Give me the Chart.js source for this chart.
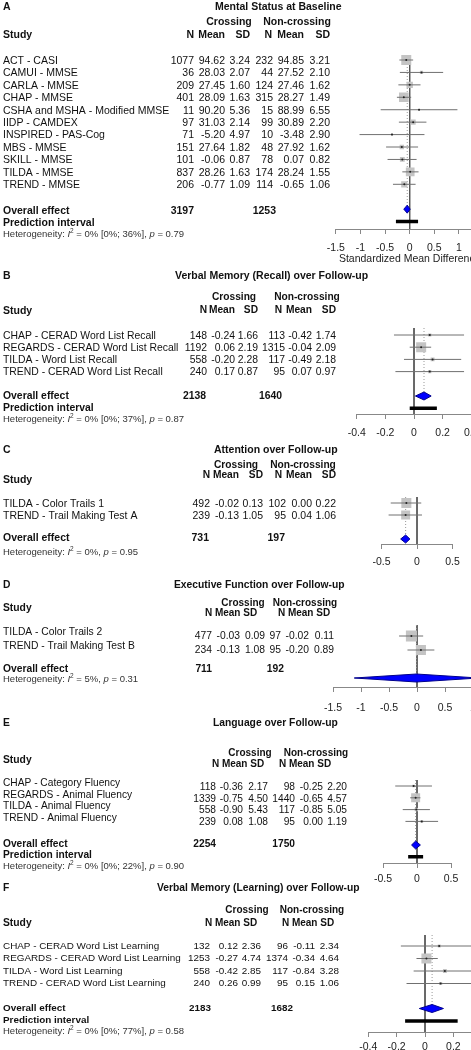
<!DOCTYPE html>
<html>
<head>
<meta charset="utf-8">
<script src="https://cdn.jsdelivr.net/npm/chart.js@4.4.1/dist/chart.umd.min.js"></script>
<style>
  html, body { margin: 0; padding: 0; background: #fff; width: 471px; height: 1050px; overflow: hidden; position: relative; }
  canvas { position: absolute; left: 0; }
</style>
</head>
<body>
<script>
// ---------- data ----------
const letters = ["A", "B", "C", "D", "E", "F"];
const panelTitles = [
  "Mental Status at Baseline",
  "Verbal Memory (Recall) over Follow-up",
  "Attention over Follow-up",
  "Executive Function over Follow-up",
  "Language over Follow-up",
  "Verbal Memory (Learning) over Follow-up"
];
const hetI2 = ["0%", "0%", "0%", "5%", "0%", "0%"];
const hetRange = ["[0%; 36%]", "[0%; 37%]", "", "", "[0%; 22%]", "[0%; 77%]"];
const hetP = ["0.79", "0.87", "0.95", "0.31", "0.90", "0.58"];

// A - mental status at baseline
const studiesA = ["ACT - CASI", "CAMUI - MMSE", "CARLA - MMSE", "CHAP - MMSE", "CSHA and MSHA - Modified MMSE",
  "IIDP - CAMDEX", "INSPIRED - PAS-Cog", "MBS - MMSE", "SKILL - MMSE", "TILDA - MMSE", "TREND - MMSE"];
const nCrossA = [1077, 36, 209, 401, 11, 97, 71, 151, 101, 837, 206];
const meanCrossA = [94.62, 28.03, 27.45, 28.09, 90.20, 31.03, -5.20, 27.64, -0.06, 28.26, -0.77];
const sdCrossA = [3.24, 2.07, 1.60, 1.63, 5.36, 2.14, 4.97, 1.82, 0.87, 1.63, 1.09];
const nNonA = [232, 44, 124, 315, 15, 99, 10, 48, 78, 174, 114];
const meanNonA = [94.85, 27.52, 27.46, 28.27, 88.99, 30.89, -3.48, 27.92, 0.07, 28.24, -0.65];
const sdNonA = [3.21, 2.10, 1.62, 1.49, 6.55, 2.20, 2.90, 1.62, 0.82, 1.55, 1.06];
const smdA = [-0.07, 0.24, 0.00, -0.12, 0.19, 0.07, -0.36, -0.16, -0.15, 0.01, -0.11];
const loA = [-0.21, -0.20, -0.23, -0.26, -0.59, -0.22, -1.02, -0.48, -0.45, -0.15, -0.34];
const hiA = [0.07, 0.68, 0.22, 0.03, 0.97, 0.34, 0.30, 0.17, 0.14, 0.18, 0.12];
const overallA = [-0.05, -0.12, 0.01];
const predA = [-0.28, 0.17];
const totalsA = [3197, 1253];
const ticksA = [-1.5, -1, -0.5, 0, 0.5, 1, 1.5];

// B - verbal memory (recall)
const studiesB = ["CHAP - CERAD Word List Recall", "REGARDS - CERAD Word List Recall",
  "TILDA - Word List Recall", "TREND - CERAD Word List Recall"];
const nCrossB = [148, 1192, 558, 240];
const meanCrossB = [-0.24, 0.06, -0.20, 0.17];
const sdCrossB = [1.66, 2.19, 2.28, 0.87];
const nNonB = [113, 1315, 117, 95];
const meanNonB = [-0.42, -0.04, -0.49, 0.07];
const sdNonB = [1.74, 2.09, 2.18, 0.97];
const smdB = [0.11, 0.05, 0.13, 0.11];
const loB = [-0.14, -0.03, -0.07, -0.13];
const hiB = [0.35, 0.12, 0.33, 0.35];
const overallB = [0.07, 0.01, 0.12];
const predB = [-0.03, 0.16];
const totalsB = [2138, 1640];
const ticksB = [-0.4, -0.2, 0, 0.2, 0.4];

// C - attention
const studiesC = ["TILDA - Color Trails 1", "TREND - Trail Making Test A"];
const nCrossC = [492, 239];
const meanCrossC = [-0.02, -0.13];
const sdCrossC = [0.13, 1.05];
const nNonC = [102, 95];
const meanNonC = [0.00, 0.04];
const sdNonC = [0.22, 1.06];
const smdC = [-0.15, -0.16];
const loC = [-0.37, -0.40];
const hiC = [0.06, 0.07];
const overallC = [-0.16, -0.23, -0.10];
const totalsC = [731, 197];
const ticksC = [-0.5, 0, 0.5];

// D - executive function
const studiesD = ["TILDA - Color Trails 2", "TREND - Trail Making Test B"];
const nCrossD = [477, 234];
const meanCrossD = [-0.03, -0.13];
const sdCrossD = [0.09, 1.08];
const nNonD = [97, 95];
const meanNonD = [-0.02, -0.20];
const sdNonD = [0.11, 0.89];
const smdD = [-0.10, 0.07];
const loD = [-0.32, -0.17];
const hiD = [0.11, 0.31];
const overallD = [-0.01, -1.12, 1.10];
const totalsD = [711, 192];
const ticksD = [-1.5, -1, -0.5, 0, 0.5, 1, 1.5];

// E - language
const studiesE = ["CHAP - Category Fluency", "REGARDS - Animal Fluency", "TILDA - Animal Fluency", "TREND - Animal Fluency"];
const nCrossE = [118, 1339, 558, 239];
const meanCrossE = [-0.36, -0.75, -0.90, 0.08];
const sdCrossE = [2.17, 4.50, 5.43, 1.08];
const nNonE = [98, 1440, 117, 95];
const meanNonE = [-0.25, -0.65, -0.85, 0.00];
const sdNonE = [2.20, 4.57, 5.05, 1.19];
const smdE = [-0.05, -0.02, -0.01, 0.07];
const loE = [-0.32, -0.10, -0.21, -0.17];
const hiE = [0.22, 0.05, 0.19, 0.31];
const overallE = [-0.02, -0.08, 0.05];
const predE = [-0.13, 0.09];
const totalsE = [2254, 1750];
const ticksE = [-0.5, 0, 0.5];

// F - verbal memory (learning)
const studiesF = ["CHAP - CERAD Word List Learning", "REGARDS - CERAD Word List Learning",
  "TILDA - Word List Learning", "TREND - CERAD Word List Learning"];
const nCrossF = [132, 1253, 558, 240];
const meanCrossF = [0.12, -0.27, -0.42, 0.26];
const sdCrossF = [2.36, 4.74, 2.85, 0.99];
const nNonF = [96, 1374, 117, 95];
const meanNonF = [-0.11, -0.34, -0.84, 0.15];
const sdNonF = [2.34, 4.64, 3.28, 1.06];
const smdF = [0.10, 0.01, 0.14, 0.11];
const loF = [-0.17, -0.06, -0.08, -0.13];
const hiF = [0.36, 0.09, 0.36, 0.35];
const overallF = [0.05, -0.04, 0.13];
const predF = [-0.14, 0.23];
const totalsF = [2183, 1682];
const ticksF = [-0.4, -0.2, 0, 0.2, 0.4];

// ---------- layout (page pixels) ----------
const FAM = "'Liberation Sans', Arial, Helvetica, sans-serif";
const CW = 560;

const layouts = [
  { top: 0, titleX: 215, titleY: 7, crossY: 22, crossX: [229, 297], studyY: 35, headY: 35,
    headCols: [194, 225, 250, 272, 304, 330], cols: [194, 225, 250, 273, 304, 330],
    row0: 60, sp: 12.43, nameDy: 1, numDy: 1, ovY: 211, predY: 223, hetY: 234, ovCols: [194, 276],
    zTopY: 55, axisY: 229, x0: 409.7, ppu: 49.2, tickPad: 8, axisTitle: "Standardized Mean Difference",
    box: 10, fs: 10.5, hfs: 10.5, tfs: 10.5 },
  { top: 268, titleX: 175, titleY: 276, crossY: 297, crossX: [234, 307], studyY: 311, headY: 310,
    headCols: [207, 235, 258, 282, 312, 336], cols: [207, 235, 258, 285, 312, 336],
    row0: 335, sp: 12.2, nameDy: 1, numDy: 1, ovY: 396, predY: 408, hetY: 419, ovCols: [206, 282],
    zTopY: 328, axisY: 414, x0: 414, ppu: 143, tickPad: 8, box: 10, fs: 10.4, hfs: 10.2, tfs: 10.5 },
  { top: 442, titleX: 214, titleY: 450, crossY: 465, crossX: [236, 303], studyY: 480, headY: 475,
    headCols: [210, 239, 263, 282, 312, 336], cols: [210, 239, 263, 286, 312, 336],
    row0: 503, sp: 12, nameDy: 1, numDy: 1, ovY: 538, hetY: 552, ovCols: [209, 285],
    zTopY: 497, axisY: 544, x0: 417, ppu: 71, tickPad: 7, box: 10, fs: 10.5, hfs: 10.2, tfs: 10.5 },
  { top: 577, titleX: 174, titleY: 585, crossY: 603, crossX: [243, 305], studyY: 608, headY: 613,
    headX: [231, 304], cols: [212, 240, 265, 281, 309, 334],
    row0: 636, sp: 14, nameDy: -4, numDy: 0, ovY: 669, hetY: 679, ovCols: [212, 284],
    zTopY: 625, axisY: 687, x0: 417, ppu: 56, tickPad: 10, box: 11, fs: 10.3, hfs: 10, tfs: 10.3 },
  { top: 715, titleX: 213, titleY: 723, crossY: 753, crossX: [250, 316], studyY: 760, headY: 764,
    headX: [238, 305], cols: [216, 243, 268, 295, 323, 347],
    row0: 786, sp: 11.8, nameDy: -3, numDy: 1, ovY: 844, predY: 855, hetY: 866, ovCols: [216, 295],
    zTopY: 780, axisY: 863, x0: 417, ppu: 68, tickPad: 5, box: 9, fs: 10.2, hfs: 10, tfs: 10.3 },
  { top: 880, titleX: 157, titleY: 888, crossY: 910, crossX: [247, 312], studyY: 923, headY: 923,
    headX: [231, 308], cols: [210, 238, 261, 288, 315, 339],
    row0: 946, sp: 12.5, nameDy: 0, numDy: 0, ovY: 1008, predY: 1020, hetY: 1031, ovCols: [211, 293],
    zTopY: 935, axisY: 1032, x0: 425, ppu: 142, tickPad: 4, box: 10, fs: 9.9, hfs: 10, tfs: 10.3 }
];

const panels = [
  { studies: studiesA, nc: nCrossA, mc: meanCrossA, sc: sdCrossA, nn: nNonA, mn: meanNonA, sn: sdNonA,
    smd: smdA, lo: loA, hi: hiA, overall: overallA, pred: predA, totals: totalsA, ticks: ticksA },
  { studies: studiesB, nc: nCrossB, mc: meanCrossB, sc: sdCrossB, nn: nNonB, mn: meanNonB, sn: sdNonB,
    smd: smdB, lo: loB, hi: hiB, overall: overallB, pred: predB, totals: totalsB, ticks: ticksB },
  { studies: studiesC, nc: nCrossC, mc: meanCrossC, sc: sdCrossC, nn: nNonC, mn: meanNonC, sn: sdNonC,
    smd: smdC, lo: loC, hi: hiC, overall: overallC, pred: null, totals: totalsC, ticks: ticksC },
  { studies: studiesD, nc: nCrossD, mc: meanCrossD, sc: sdCrossD, nn: nNonD, mn: meanNonD, sn: sdNonD,
    smd: smdD, lo: loD, hi: hiD, overall: overallD, pred: null, totals: totalsD, ticks: ticksD },
  { studies: studiesE, nc: nCrossE, mc: meanCrossE, sc: sdCrossE, nn: nNonE, mn: meanNonE, sn: sdNonE,
    smd: smdE, lo: loE, hi: hiE, overall: overallE, pred: predE, totals: totalsE, ticks: ticksE },
  { studies: studiesF, nc: nCrossF, mc: meanCrossF, sc: sdCrossF, nn: nNonF, mn: meanNonF, sn: sdNonF,
    smd: smdF, lo: loF, hi: hiF, overall: overallF, pred: predF, totals: totalsF, ticks: ticksF }
];

// left-hand table, headers and heterogeneity line
function drawTable(chart, d, L, k) {
  const ctx = chart.ctx, ys = chart.scales.y, T = L.top;
  ctx.save();
  ctx.textBaseline = "middle";
  const put = (s, x, y, align, font, col) => {
    ctx.font = font;
    ctx.fillStyle = col || "#111";
    ctx.textAlign = align;
    ctx.fillText(s, x, y - T);
  };
  const reg = L.fs + "px " + FAM;
  const bold = "bold " + L.fs + "px " + FAM;
  const hb = "bold " + L.hfs + "px " + FAM;
  const tb = "bold " + L.tfs + "px " + FAM;

  put(letters[k], 3, L.titleY, "left", tb);
  put(panelTitles[k], L.titleX, L.titleY, "left", tb);
  put("Crossing", L.crossX[0], L.crossY, "center", hb);
  put("Non-crossing", L.crossX[1], L.crossY, "center", hb);
  put("Study", 3, L.studyY, "left", tb);
  if (L.headCols) {
    ["N", "Mean", "SD", "N", "Mean", "SD"].forEach((s, j) => put(s, L.headCols[j], L.headY, "right", hb));
  } else {
    L.headX.forEach(x => put("N Mean SD", x, L.headY, "center", hb));
  }

  d.studies.forEach((s, i) => {
    const y = ys.getPixelForValue(i) + T;
    put(s, 3, y + L.nameDy, "left", reg);
    const cells = [d.nc[i], d.mc[i].toFixed(2), d.sc[i].toFixed(2), d.nn[i], d.mn[i].toFixed(2), d.sn[i].toFixed(2)];
    cells.forEach((c, j) => put(String(c), L.cols[j], y + L.numDy, "right", reg));
  });

  put("Overall effect", 3, L.ovY, "left", bold);
  put(String(d.totals[0]), L.ovCols[0], L.ovY, "right", bold);
  put(String(d.totals[1]), L.ovCols[1], L.ovY, "right", bold);
  if (d.pred) put("Prediction interval", 3, L.predY, "left", bold);

  const hs = 9.5;
  const nf = hs + "px " + FAM, itf = "italic " + hs + "px " + FAM, sf = "6.5px " + FAM;
  const parts = [
    ["Heterogeneity: ", nf, 0], ["I", itf, 0], ["2", sf, -3],
    [" = " + hetI2[k] + (hetRange[k] ? " " + hetRange[k] : "") + ", ", nf, 0],
    ["p", itf, 0], [" = " + hetP[k], nf, 0]
  ];
  let x = 3;
  ctx.textAlign = "left";
  ctx.fillStyle = "#333";
  parts.forEach(([s, f, dy]) => {
    ctx.font = f;
    ctx.fillText(s, x, L.hetY - T + dy);
    x += ctx.measureText(s).width;
  });
  ctx.restore();
}

function makePanel(d, L, k) {
  const axisH = L.axisTitle ? 36.3 : 28;
  const H = Math.round(L.axisY + axisH + 4 - L.top);
  const cv = document.createElement("canvas");
  cv.width = CW;
  cv.height = H;
  cv.style.top = L.top + "px";
  document.body.appendChild(cv);

  const n = d.studies.length;
  const ovRow = n + 1;
  const axisRow = (L.axisY - L.row0) / L.sp;
  const zRow = (L.zTopY - L.row0) / L.sp;
  const yMin = zRow - 0.3;
  const px = v => L.x0 + v * L.ppu;
  const tMin = d.ticks[0], tMax = d.ticks[d.ticks.length - 1];
  const pad = {
    left: px(tMin),
    right: CW - px(tMax),
    top: L.row0 + yMin * L.sp - L.top,
    bottom: H - (L.axisY - L.top) - axisH
  };

  // box size from study weight
  const w = d.nc.map((a, i) => a * d.nn[i] / (a + d.nn[i]));
  const wMax = Math.max(...w);
  const boxR = w.map(v => Math.max(1.8, L.box * Math.sqrt(v / wMax)) / Math.SQRT2);
  const dh = 4 / L.sp;

  const ds = [];
  ds.push({ data: [{ x: 0, y: zRow }, { x: 0, y: axisRow }], borderColor: "#555", borderWidth: 1, pointRadius: 0, order: 9 });
  ds.push({ data: [{ x: d.overall[0], y: zRow }, { x: d.overall[0], y: ovRow }], borderColor: "#999",
    borderDash: [1, 2], borderWidth: 1, pointRadius: 0, order: 8 });
  ds.push({ data: d.smd.map((v, i) => ({ x: v, y: i })), showLine: false, pointStyle: "rect",
    pointRadius: boxR, pointBackgroundColor: "#c4c4c4", pointBorderWidth: 0, borderWidth: 0, order: 7 });
  d.smd.forEach((v, i) => {
    ds.push({ data: [{ x: d.lo[i], y: i }, { x: d.hi[i], y: i }], borderColor: "#707070", borderWidth: 1, pointRadius: 0, order: 5 });
  });
  ds.push({ data: d.smd.map((v, i) => ({ x: v, y: i })), showLine: false, pointStyle: "circle",
    pointRadius: 1, pointBackgroundColor: "#222", pointBorderWidth: 0, borderWidth: 0, order: 4 });
  const [est, lo, hi] = d.overall;
  ds.push({ data: [{ x: lo, y: ovRow }, { x: est, y: ovRow - dh }, { x: hi, y: ovRow }, { x: est, y: ovRow + dh }, { x: lo, y: ovRow }],
    borderColor: "#00008b", backgroundColor: "#0000ff", fill: "shape", borderWidth: 1, pointRadius: 0, tension: 0, order: 2 });
  if (d.pred) {
    ds.push({ data: [{ x: d.pred[0], y: ovRow + 1 }, { x: d.pred[1], y: ovRow + 1 }], borderColor: "#000",
      borderWidth: 3.5, borderCapStyle: "butt", pointRadius: 0, order: 1 });
  }

  new Chart(cv, {
    type: "line",
    data: { datasets: ds },
    options: {
      responsive: false,
      animation: false,
      devicePixelRatio: 1,
      events: [],
      layout: { padding: pad, autoPadding: false },
      plugins: { legend: { display: false }, tooltip: { enabled: false } },
      scales: {
        x: {
          type: "linear",
          min: tMin,
          max: tMax,
          afterBuildTicks: s => { s.ticks = d.ticks.map(v => ({ value: v })); },
          afterFit: s => { s.height = axisH; },
          grid: { display: true, drawOnChartArea: false, drawTicks: true, tickLength: 5, color: "#888", lineWidth: 1 },
          border: { display: true, color: "#888", width: 1 },
          ticks: { color: "#222", font: { family: FAM, size: 10.5 }, padding: L.tickPad, maxRotation: 0,
            autoSkip: false, callback: v => String(v) },
          title: L.axisTitle
            ? { display: true, text: L.axisTitle, color: "#222", font: { family: FAM, size: 10.5 }, padding: 0 }
            : { display: false }
        },
        y: { type: "linear", reverse: true, min: yMin, max: axisRow, display: false }
      }
    },
    plugins: [{ id: "table" + k, afterDraw: chart => drawTable(chart, d, L, k) }]
  });
}

panels.forEach((d, k) => makePanel(d, layouts[k], k));
</script>
</body>
</html>
